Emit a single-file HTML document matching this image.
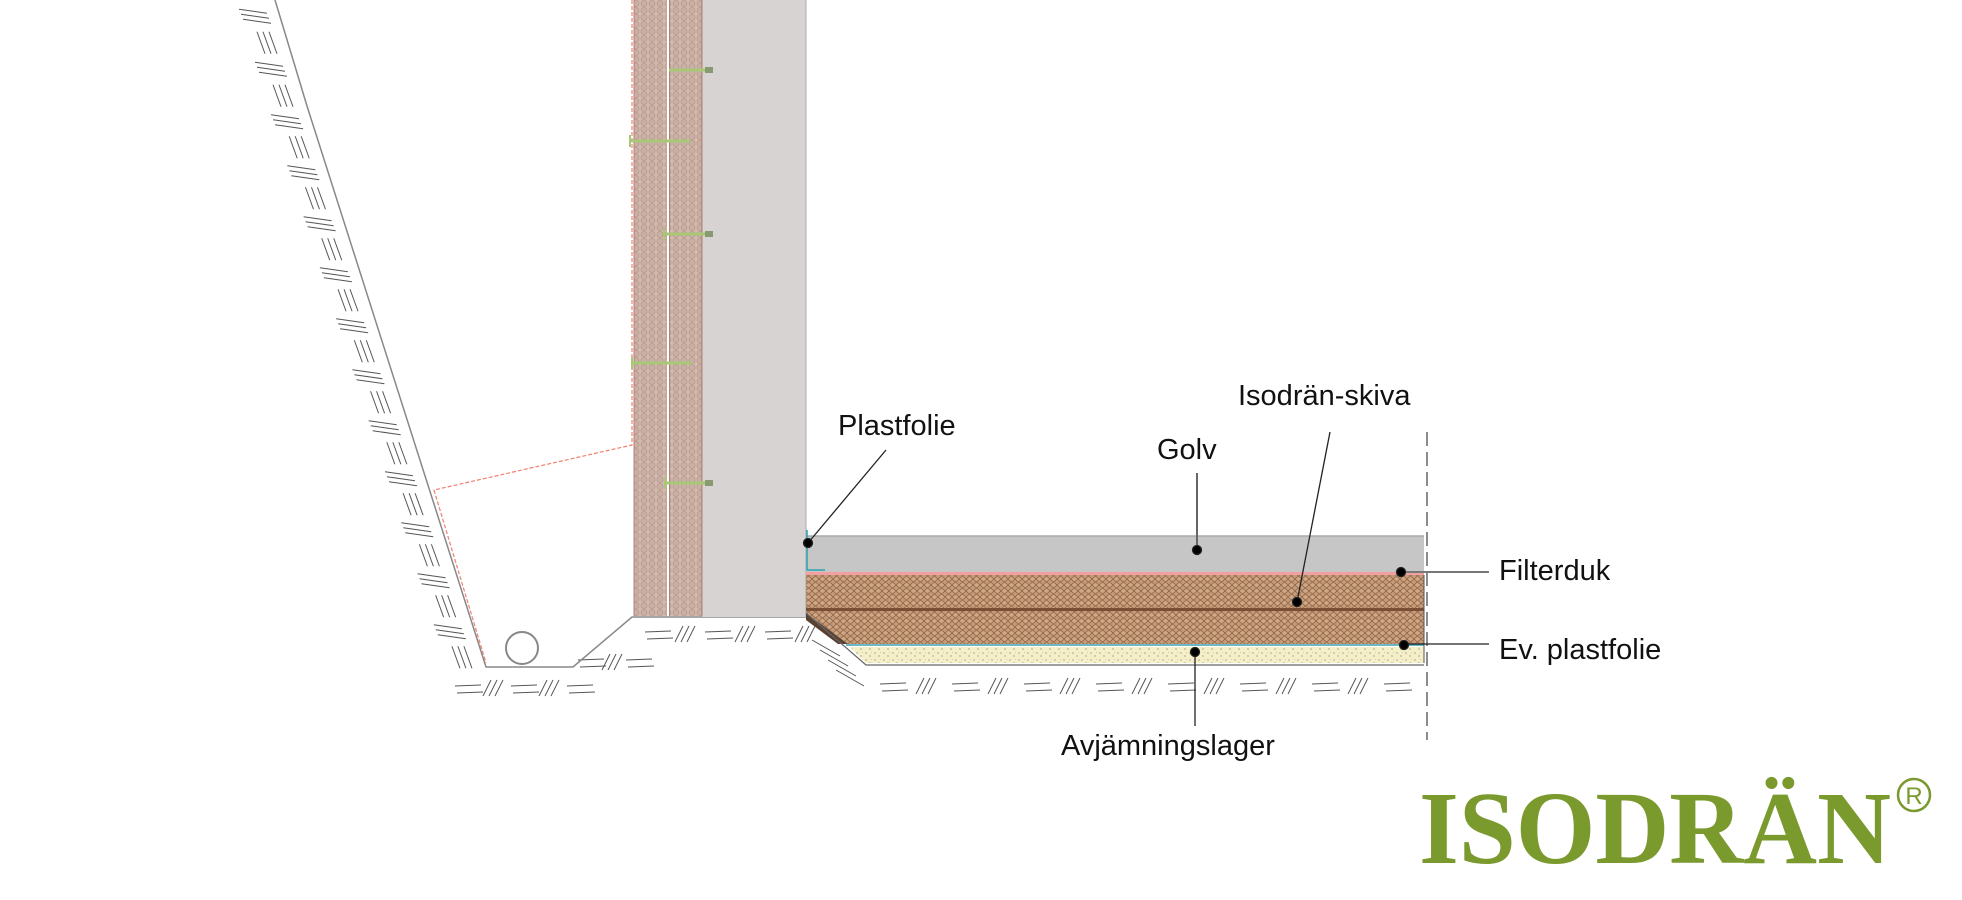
<!DOCTYPE html>
<html><head><meta charset="utf-8"><style>
html,body{margin:0;padding:0;background:#fff;}
svg{display:block;}
.t{font-family:"Liberation Sans",sans-serif;}
</style></head><body>
<svg id="s" width="1962" height="900" viewBox="0 0 1962 900" xmlns="http://www.w3.org/2000/svg">
<defs>
<pattern id="hc" width="8" height="7" patternUnits="userSpaceOnUse">
<rect width="8" height="7" fill="#d2b9ae"/>
<circle cx="4" cy="3.5" r="3" fill="#c9b0a6" stroke="#b8978a" stroke-width="0.8"/>
</pattern>
<pattern id="br" width="7" height="6" patternUnits="userSpaceOnUse">
<rect width="7" height="6" fill="#c59a78"/>
<path d="M0 3 L3.5 0 L7 3 L3.5 6 Z" fill="#cfa886" stroke="#8a5e40" stroke-width="0.7"/>
</pattern>
<pattern id="sd" width="9" height="7" patternUnits="userSpaceOnUse">
<rect width="9" height="7" fill="#f5efc8"/>
<circle cx="2" cy="2" r="0.6" fill="#777"/><circle cx="6" cy="5" r="0.6" fill="#777"/><circle cx="7.5" cy="1.5" r="0.4" fill="#999"/>
</pattern>
</defs>
<g id="h" stroke="#555" stroke-width="1"></g>
<polyline points="275,0 307,106 486,667 573,667 632,617 806,617" fill="none" stroke="#888" stroke-width="1.5"/>
<circle cx="522" cy="648" r="16" fill="none" stroke="#888" stroke-width="2"/>
<polyline points="632,0 632,445 434,490 486,663" fill="none" stroke="#f08070" stroke-width="1.2" stroke-dasharray="4,2"/>
<rect x="634" y="0" width="33" height="616" fill="url(#hc)"/>
<rect x="669" y="0" width="33" height="616" fill="url(#hc)"/>
<line x1="668" y1="0" x2="668" y2="616" stroke="#fff" stroke-width="1.5"/>
<line x1="669.5" y1="0" x2="669.5" y2="616" stroke="#b08474" stroke-width="1"/>
<line x1="702" y1="0" x2="702" y2="616" stroke="#b08474" stroke-width="1.5"/>
<line x1="634" y1="0" x2="634" y2="616" stroke="#b08474" stroke-width="1"/>
<rect x="702.5" y="0" width="103.5" height="617" fill="#d7d3d3"/>
<line x1="806" y1="0" x2="806" y2="617" stroke="#aaa" stroke-width="1"/>
<g stroke="#a8c878" stroke-width="3">
<line x1="669" y1="70" x2="712" y2="70"/>
<line x1="630" y1="141" x2="690" y2="141"/>
<line x1="664" y1="234" x2="712" y2="234"/>
<line x1="632" y1="363" x2="692" y2="363"/>
<line x1="665" y1="483" x2="712" y2="483"/>
</g>
<g fill="#8a9a70"><rect x="705" y="67" width="8" height="6"/><rect x="705" y="231" width="8" height="6"/><rect x="705" y="480" width="8" height="6"/></g>
<g stroke="#a8c878" stroke-width="2"><line x1="630" y1="135" x2="630" y2="147"/><line x1="632" y1="357" x2="632" y2="369"/><line x1="664" y1="228" x2="664" y2="240"/><line x1="665" y1="477" x2="665" y2="489"/></g>
<!-- floor -->
<rect x="806" y="536" width="618" height="36" fill="#c6c6c6"/>
<line x1="806" y1="536" x2="1424" y2="536" stroke="#aaa" stroke-width="1.5"/>
<polyline points="807,530 807,570 825,570" fill="none" stroke="#2aa0b0" stroke-width="1.5"/>
<rect x="806" y="572" width="618" height="3" fill="#f0a0a0"/>
<rect x="806" y="575" width="618" height="34" fill="url(#br)"/>
<rect x="806" y="608" width="618" height="3" fill="#7a4e34"/>
<polygon points="806,611 1424,611 1424,644 848,644 806,613" fill="url(#br)"/>
<polygon points="806,613 848,644 838,644 806,620" fill="#5a4030"/>
<line x1="846" y1="645" x2="1424" y2="645" stroke="#3aa0b0" stroke-width="1.5"/>
<polygon points="850,647 1424,647 1424,663 866,663" fill="url(#sd)"/>
<polyline points="806,613 866,665 1424,665" fill="none" stroke="#666" stroke-width="1.2"/>
<line x1="1424" y1="575" x2="1424" y2="663" stroke="#555" stroke-width="1"/>
<line x1="1427" y1="432" x2="1427" y2="740" stroke="#666" stroke-width="1.5" stroke-dasharray="14,6"/>
<g stroke="#222" stroke-width="1.3" fill="#000">
<line x1="886" y1="450" x2="808" y2="543"/><circle cx="808" cy="543" r="4.5"/>
<line x1="1197" y1="473" x2="1197" y2="550" stroke="#666" stroke-width="2"/><circle cx="1197" cy="550" r="4.5"/>
<line x1="1330" y1="432" x2="1297" y2="602"/><circle cx="1297" cy="602" r="4.5"/>
<line x1="1401" y1="572" x2="1489" y2="572" stroke="#777" stroke-width="2"/><circle cx="1401" cy="572" r="4.5"/>
<line x1="1404" y1="644" x2="1489" y2="644"/><circle cx="1404" cy="645" r="4.5"/>
<line x1="1195" y1="652" x2="1195" y2="726"/><circle cx="1195" cy="652" r="4.5"/>
</g>
<g class="t" font-size="29" fill="#111">
<text x="838" y="435">Plastfolie</text>
<text x="1157" y="459">Golv</text>
<text x="1238" y="405">Isodrän-skiva</text>
<text x="1499" y="580">Filterduk</text>
<text x="1499" y="659">Ev. plastfolie</text>
<text x="1061" y="755">Avjämningslager</text>
</g>
<text x="1419" y="863" style="font-family:'Liberation Serif',serif;font-weight:bold" font-size="104" fill="#7a9a2e" textLength="472" lengthAdjust="spacingAndGlyphs">ISODRÄN</text>
<circle cx="1914" cy="795" r="16" fill="none" stroke="#7a9a2e" stroke-width="2.5"/>
<text class="t" x="1914" y="804" text-anchor="middle" font-size="24" fill="#7a9a2e">R</text>
</svg>
<script>
var g=document.getElementById('h'),ns='http://www.w3.org/2000/svg';
function L(x1,y1,x2,y2){var l=document.createElementNS(ns,'line');l.setAttribute('x1',x1);l.setAttribute('y1',y1);l.setAttribute('x2',x2);l.setAttribute('y2',y2);g.appendChild(l);}
function slope(ax,ay,bx,by,n){for(var i=0;i<n;i++){var t=(i+0.5)/n,x=ax+(bx-ax)*t,y=ay+(by-ay)*t;
 if(i%2==0){for(var k=0;k<3;k++){L(x-40+k*2,y-4+k*5,x-12+k*2,y+k*5);}}
 else{for(var k=0;k<3;k++){L(x-30+k*6,y-8,x-22+k*6,y+14);}}}}
slope(275,0,307,106,4);slope(307,106,486,667,22);
function row(x0,x1,y,step){for(var x=x0;x<x1;x+=step){var i=Math.round((x-x0)/step);
 if(i%2==0){L(x,y,x+26,y-1);L(x+2,y+7,x+28,y+6);}else{for(var k=0;k<3;k++)L(x+k*6,y+10,x+k*6+8,y-6);}}}
row(645,800,632,30);row(880,1420,684,36);
row(455,570,686,28);row(578,640,660,24);
for(var i=0;i<4;i++){L(812+i*8,640+i*10,840+i*8,656+i*10);}
</script>
</body></html>
